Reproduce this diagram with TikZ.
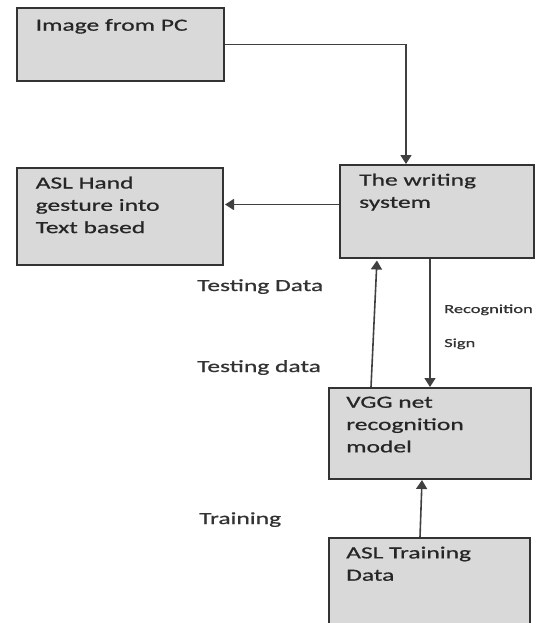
\documentclass[tikz,border=0pt]{standalone}
\usepackage{fontspec}
\setmainfont{Carlito}[FakeStretch=1.5,FakeBold=0.8]
\usetikzlibrary{arrows.meta}

\tikzset{
	blk/.style={draw=black!80, line width=2pt, fill=black!15, anchor=north west, inner sep=0pt},
	lbl/.style={anchor=north west, align=left, inner sep=0pt, xshift=#1, yshift=-9.5pt, text=black!85,
		font=\fontsize{17}{22.3}\selectfont, execute at begin node={\rule{0pt}{14pt}}},
	lbl/.default=20pt,
	note/.style={anchor=base west, inner sep=0pt, text=black!80, font=\fontsize{17}{22.3}\selectfont},
	small/.style={font=\fontsize{12.3}{15}\selectfont},
	arr/.style={draw=black!75, line width=1.6pt, -{Triangle[length=9pt,width=11pt]}}
}

\begin{document}
\begin{tikzpicture}[x=1pt, y=-1pt]
		\useasboundingbox (0,0) rectangle (539,623);
		\clip (0,0) rectangle (539,623);
		% boxes
		\node[blk, minimum width=207pt, minimum height=73pt, label={[lbl]north west:Image from PC}] (img) at (15.5,7) {};
		\node[blk, minimum width=194pt, minimum height=93pt, label={[lbl]north west:The writing\\system}] (wsys) at (339,164) {};
		\node[blk, minimum width=206pt, minimum height=97pt, label={[lbl]north west:ASL Hand\\gesture into\\Text based}] (gest) at (15.5,167) {};
		\node[blk, minimum width=202pt, minimum height=91pt, label={[lbl=18pt]north west:VGG net\\recognition\\model}] (vgg) at (328,387) {};
		\node[blk, minimum width=201pt, minimum height=110pt, label={[lbl=18pt]north west:ASL Training\\Data}] (asltr) at (328,537) {};
		% free texts
		\node[note] (testD) at (197,291) {Testing Data};
		\node[note] (testd) at (197,372) {Testing data};
		\node[note] (train) at (199,524) {Training};
		\node[note, small] (recog) at (444,313) {Recognition};
		\node[note, small] (sign) at (444,347) {Sign};
		% connectors
		\draw[arr] (img.east) -| ([xshift=67pt]wsys.north west);
		\draw[arr, shorten >=1.5pt] ([yshift=7pt]wsys.west) coordinate (w1) -- (w1 -| gest.east);
		\draw[arr, shorten >=1.5pt] ([xshift=43pt]vgg.north west) -- ([xshift=38pt]wsys.south west);
		\draw[arr] ([xshift=91pt]wsys.south west) -- ([xshift=102pt]vgg.north west);
		\draw[arr] ([xshift=92pt]asltr.north west) -- ([xshift=94pt]vgg.south west);
	\end{tikzpicture}
\end{document}
